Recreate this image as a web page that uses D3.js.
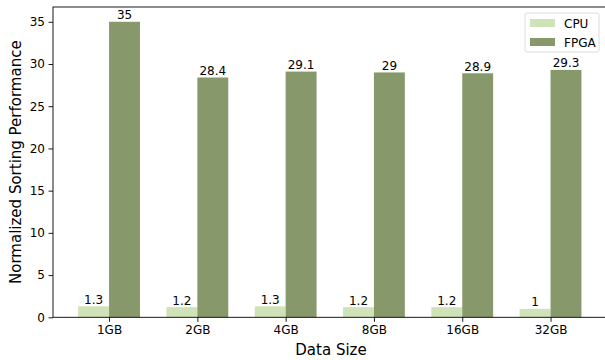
<!DOCTYPE html>
<html>
<head>
<meta charset="utf-8">
<script src="https://cdn.jsdelivr.net/npm/d3@7"></script>
<style>
  html, body { margin: 0; padding: 0; background: #fff; }
  svg { display: block; font-family: "DejaVu Sans", sans-serif; }
</style>
</head>
<body>
<svg id="chart" width="605" height="360"></svg>
<script>
// Sorting performance normalized to a baseline, per data size
const categories = ["1GB", "2GB", "4GB", "8GB", "16GB", "32GB"];
const seriesNames = ["CPU", "FPGA"];
const cpuValues = [1.3, 1.2, 1.3, 1.2, 1.2, 1];
const fpgaValues = [35, 28.4, 29.1, 29, 28.9, 29.3];
const yTicks = [0, 5, 10, 15, 20, 25, 30, 35];
const colors = ["#d0e2b8", "#87986a"];

const series = [cpuValues, fpgaValues];
const barWidth = 0.35;
const smallFont = 12;
const titleFont = 15;

const svg = d3.select("#chart");
const plot = { left: 53, right: 606.6, top: 7, bottom: 317.3 };

// bars centred on integer positions with 5% margin on each side
const xMin = -barWidth, xMax = categories.length - 1 + barWidth;
const pad = (xMax - xMin) * 0.05;
const x = d3.scaleLinear().domain([xMin - pad, xMax + pad]).range([plot.left, plot.right]);
const y = d3.scaleLinear().domain([0, 35 * 1.05]).range([plot.bottom, plot.top]);

// bars and value labels
series.forEach((vals, s) => {
  const g = svg.append("g");
  const offset = (s === 0 ? -1 : 0) * barWidth;
  g.selectAll("rect").data(vals).join("rect")
    .attr("x", (d, i) => x(i + offset))
    .attr("width", (d, i) => x(i + offset + barWidth) - x(i + offset))
    .attr("y", d => y(d))
    .attr("height", d => y(0) - y(d))
    .attr("fill", colors[s]);
  g.selectAll("text").data(vals).join("text")
    .attr("x", (d, i) => x(i + offset + barWidth / 2))
    .attr("y", d => y(d) - 2.5)
    .attr("text-anchor", "middle")
    .attr("font-size", smallFont)
    .attr("fill", "#000")
    .text(d => d);
});

// y axis
const yAxis = d3.axisLeft(y).tickValues(yTicks).tickSize(4.5).tickPadding(3.5).tickFormat(d3.format("d"));
const yg = svg.append("g").attr("transform", `translate(${plot.left},0)`).call(yAxis);
yg.select(".domain").remove();
yg.selectAll("text").attr("font-size", smallFont).attr("font-family", "DejaVu Sans, sans-serif").attr("fill", "#000");
yg.selectAll("line").attr("stroke", "#000").attr("stroke-width", 0.9);

// x axis
const xAxis = d3.axisBottom(x).tickValues(d3.range(categories.length)).tickSize(4.5).tickPadding(3.5)
  .tickFormat(i => categories[i]);
const xg = svg.append("g").attr("transform", `translate(0,${plot.bottom})`).call(xAxis);
xg.select(".domain").remove();
xg.selectAll("text").attr("font-size", smallFont).attr("font-family", "DejaVu Sans, sans-serif").attr("fill", "#000");
xg.selectAll("line").attr("stroke", "#000").attr("stroke-width", 0.9);

// spines
svg.append("rect")
  .attr("x", plot.left).attr("y", plot.top)
  .attr("width", plot.right - plot.left).attr("height", plot.bottom - plot.top)
  .attr("fill", "none").attr("stroke", "#000").attr("stroke-width", 0.9);

// axis titles
svg.append("text")
  .attr("x", 331).attr("y", 355)
  .attr("text-anchor", "middle").attr("font-size", titleFont).attr("fill", "#000")
  .text("Data Size");
svg.append("text")
  .attr("transform", `translate(21,${(plot.top + plot.bottom) / 2}) rotate(-90)`)
  .attr("text-anchor", "middle").attr("font-size", titleFont).attr("fill", "#000")
  .text("Normalized Sorting Performance");

// legend
const lg = svg.append("g");
lg.append("rect")
  .attr("x", 525).attr("y", 13).attr("width", 74).attr("height", 39).attr("rx", 2)
  .attr("fill", "#fff").attr("fill-opacity", 0.8).attr("stroke", "#d8d8d8").attr("stroke-width", 0.9);
seriesNames.forEach((name, s) => {
  const cy = 23 + s * 19;
  lg.append("rect").attr("x", 530).attr("y", cy - 4).attr("width", 25).attr("height", 8).attr("fill", colors[s]);
  lg.append("text").attr("x", 564).attr("y", cy + 4.5).attr("font-size", smallFont).attr("fill", "#000").text(name);
});
</script>
</body>
</html>
